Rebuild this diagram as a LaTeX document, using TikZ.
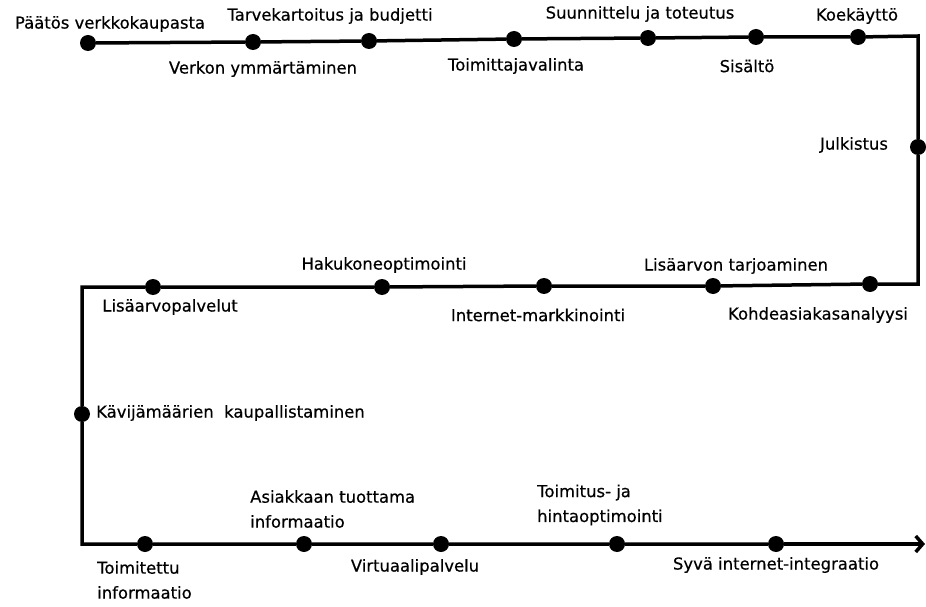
\documentclass[tikz,border=0pt]{standalone}
\usepackage{fontspec}
\setmainfont{DejaVu Sans}
\newfontfamily\lblfont[FakeBold=0.5]{DejaVu Sans}
\usepackage{tikz}
\usetikzlibrary{positioning, arrows.meta}

\begin{document}
\begin{tikzpicture}[x=1bp, y=-1bp, dotnode/.style={circle, fill=black, inner sep=0pt, minimum size=16bp}, lbl/.style={inner sep=0pt, font=\lblfont\fontsize{16.5}{25}\selectfont, text=black}, path/.style={line width=3.5bp, line join=miter}]
\useasboundingbox (0,0) rectangle (926,607);

% milestones
\node[dotnode] at (88,43) (p1) {};
\node[dotnode] at (253,42) (p2) {};
\node[dotnode] at (369,41) (p3) {};
\node[dotnode] at (514,39) (p4) {};
\node[dotnode] at (648,38) (p5) {};
\node[dotnode] at (756,37) (p6) {};
\node[dotnode] at (858,37) (p7) {};
\node[dotnode] at (918,147) (p8) {};
\node[dotnode] at (870,284) (p9) {};
\node[dotnode] at (713,286) (p10) {};
\node[dotnode] at (544,286) (p11) {};
\node[dotnode] at (382,287) (p12) {};
\node[dotnode] at (153,287) (p13) {};
\node[dotnode] at (82,414) (p14) {};
\node[dotnode] at (145,544) (p15) {};
\node[dotnode] at (304,544) (p16) {};
\node[dotnode] at (441,544) (p17) {};
\node[dotnode] at (617,544) (p18) {};
\node[dotnode] at (776,544) (p19) {};

\coordinate (c1) at (918,36);
\coordinate (c2) at (918,284);
\coordinate (c3) at (82,287);
\coordinate (c4) at (82,544);
\coordinate (end) at (925,544);

\draw[path] (p1) -- (p2) -- (p3) -- (p4) -- (p5) -- (p6) -- (p7) -- (c1) -- (p8) -- (c2) -- (p9) -- (p10) -- (p11) -- (p12) -- (p13) -- (c3) -- (p14) -- (c4) -- (p15) -- (p16) -- (p17) -- (p18) -- (p19);
\draw[path, -{Straight Barb[length=7bp, width=16bp]}] (p19) -- (end);

% labels
\node[lbl] at (110,24) (t1) {Päätös verkkokaupasta};
\node[lbl] at (263,69) (t2) {Verkon ymmärtäminen};
\node[lbl] at (330,16) (t3) {Tarvekartoitus ja budjetti};
\node[lbl] at (516,66) (t4) {Toimittajavalinta};
\node[lbl] at (640,14) (t5) {Suunnittelu ja toteutus};
\node[lbl] at (747,66) (t6) {Sisältö};
\node[lbl] at (857,16) (t7) {Koekäyttö};
\node[lbl] at (854,145) (t8) {Julkistus};
\node[lbl] at (736,266) (t9) {Lisäarvon tarjoaminen};
\node[lbl] at (818,315) (t10) {Kohdeasiakasanalyysi};
\node[lbl] at (538,315) (t11) {Internet-markkinointi};
\node[lbl] at (384,265) (t12) {Hakukoneoptimointi};
\node[lbl] at (170,307) (t13) {Lisäarvopalvelut};
\node[lbl, anchor=west] at (96,413) (t14) {Kävijämäärien\ \ kaupallistaminen};
\node[lbl, anchor=west, align=left] at (250,509) (t15) {Asiakkaan tuottama\\informaatio};
\node[lbl, anchor=west, align=left] at (97,580) (t16) {Toimitettu\\informaatio};
\node[lbl] at (415,567) (t17) {Virtuaalipalvelu};
\node[lbl, anchor=west, align=left] at (537,505) (t18) {Toimitus- ja\\hintaoptimointi};
\node[lbl] at (776,565) (t19) {Syvä internet-integraatio};

\end{tikzpicture}
\end{document}
